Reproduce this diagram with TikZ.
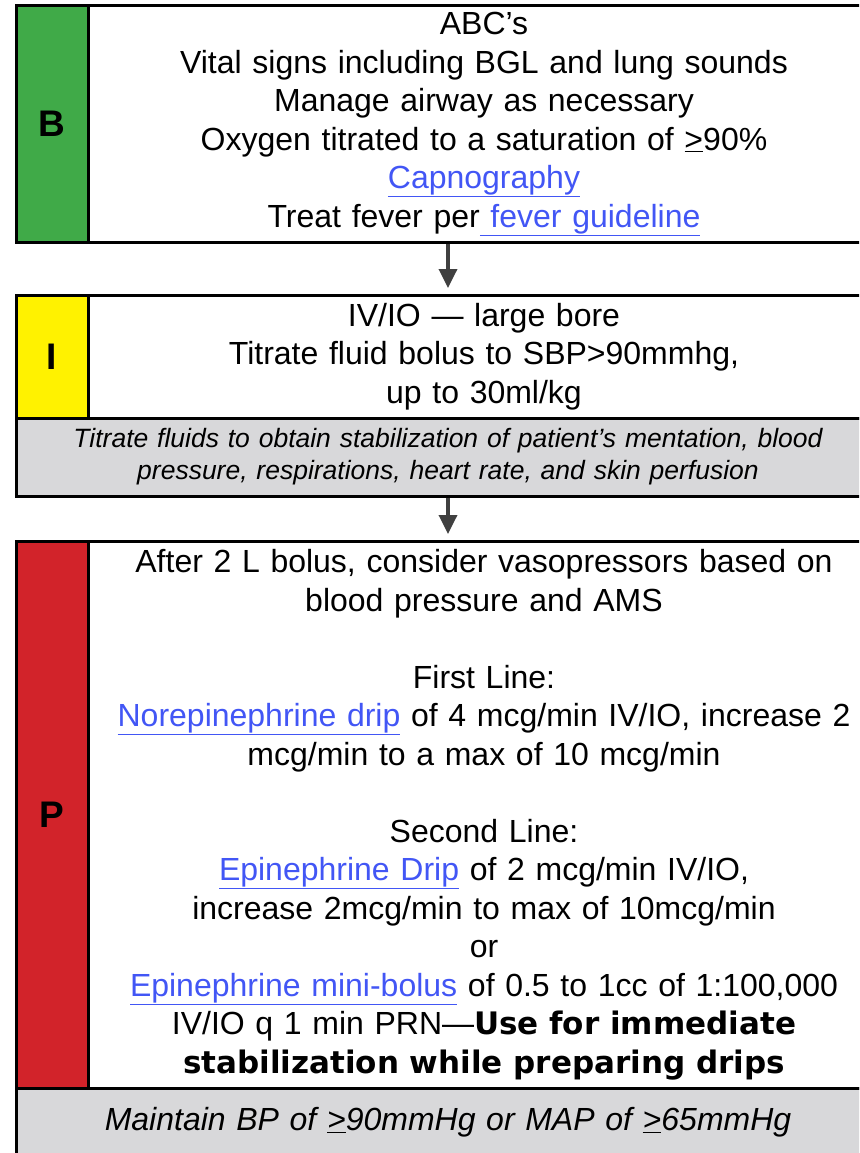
\documentclass[tikz,border=0pt]{standalone}
\usepackage{fontspec}
\setmainfont{Liberation Sans}
\newfontfamily\heavyfont{DejaVu Sans}
\usetikzlibrary{arrows.meta,positioning}

\definecolor{bgreen}{RGB}{64,170,72}
\definecolor{iyellow}{RGB}{255,242,0}
\definecolor{pred}{RGB}{210,35,42}
\definecolor{notegray}{RGB}{216,216,218}
\definecolor{linkblue}{RGB}{66,86,245}
\definecolor{arrowgray}{RGB}{64,64,64}

\newcommand{\lnk}[1]{\textcolor{linkblue}{\underline{#1}}}
\newcommand{\atleast}{\underline{>}}
\newcommand{\heavy}[1]{{\heavyfont\bfseries\fontsize{31}{38.5}\selectfont #1}}

\begin{document}
\begin{tikzpicture}[x=1pt, y=-1pt,
    box/.style={draw, line width=3pt, anchor=north west, outer sep=0pt, inner sep=0pt},
    tag/.style={box, minimum width=72pt, font=\fontsize{37}{40}\selectfont\bfseries},
    body/.style={box, minimum width=792pt, text width=780pt, align=center, font=\fontsize{32}{38.5}\selectfont},
    note/.style={box, fill=notegray, minimum width=864pt, text width=850pt, align=center},
    flow/.style={-{Triangle[length=19pt,width=18pt]}, line width=3.5pt, draw=arrowgray, shorten <=1.5pt, shorten >=7pt}]
    \useasboundingbox (0,0) rectangle (859,1153);
    \clip (0,0) rectangle (859,1153);

    % --- B: first block ---
    \node[tag, fill=bgreen, minimum height=236pt] (tagB) at (16,6) {B};
    \node[body, minimum height=236pt] (Bbody) at (88,6) {ABC’s\\
        Vital signs including BGL and lung sounds\\
        Manage airway as necessary\\
        Oxygen titrated to a saturation of \atleast90\%\\
        \lnk{Capnography}\\
        Treat fever per\lnk{\ fever guideline}};

    % --- I: second block ---
    \node[tag, fill=iyellow, minimum height=123pt] (tagI) at (16,295) {I};
    \node[body, minimum height=123pt] (Ibody) at (88,295) {IV/IO — large bore\\
        Titrate fluid bolus to SBP>90mmhg,\\
        up to 30ml/kg};
    \node[note, minimum height=78pt, font=\fontsize{26.5}{32}\selectfont\itshape] (Inote) at (16,418)
        {Titrate fluids to obtain stabilization of patient’s mentation, blood\\
        pressure, respirations, heart rate, and skin perfusion};

    % --- P: third block ---
    \node[tag, fill=pred, minimum height=547pt] (tagP) at (16,541) {P};
    \node[body, minimum height=547pt] (Pbody) at (88,541) {After 2 L bolus, consider vasopressors based on\\
        blood pressure and AMS\\[\baselineskip]
        First Line:\\
        \lnk{Norepinephrine drip} of 4 mcg/min IV/IO, increase 2\\
        mcg/min to a max of 10 mcg/min\\[\baselineskip]
        Second Line:\\
        \lnk{Epinephrine Drip} of 2 mcg/min IV/IO,\\
        increase 2mcg/min to max of 10mcg/min\\
        or\\
        \lnk{Epinephrine mini-bolus} of 0.5 to 1cc of 1:100,000\\
        IV/IO q 1 min PRN—\heavy{Use for immediate}\\
        \heavy{stabilization while preparing drips}};
    \node[note, minimum height=69pt, font=\fontsize{32}{38}\selectfont\itshape] (Pnote) at (16,1088)
        {Maintain BP of \atleast90mmHg or MAP of \atleast65mmHg};

    % arrows between blocks
    \draw[flow] (Bbody.south -| Inote.north) -- (Ibody.north -| Inote.north);
    \draw[flow] (Inote.south) -- (Pbody.north -| Inote.south);
\end{tikzpicture}
\end{document}
